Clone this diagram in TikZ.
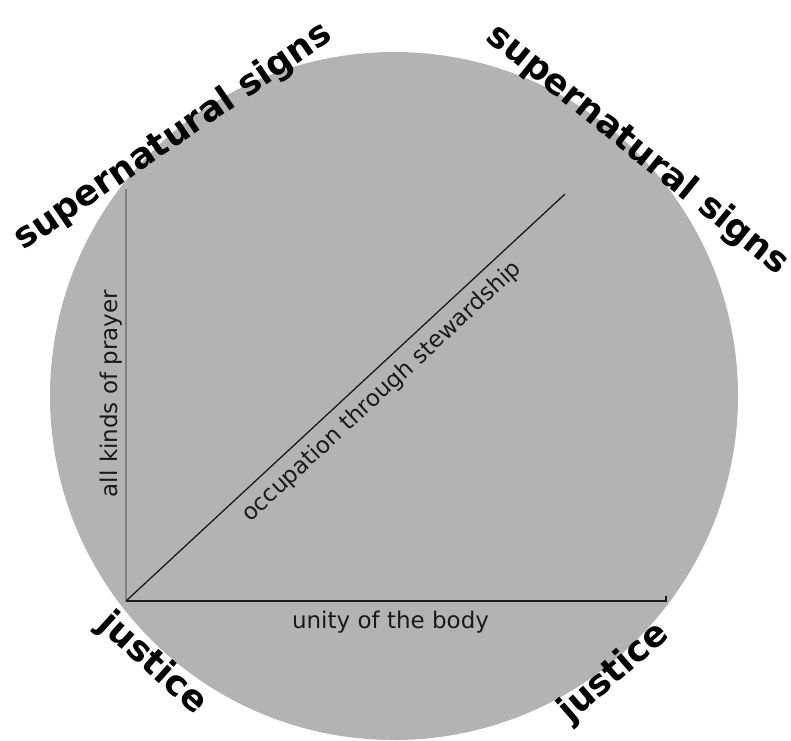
\documentclass[tikz,border=0pt]{standalone}
\usepackage{fontspec}
\setmainfont{DejaVu Sans}
\usetikzlibrary{calc}
\definecolor{disc}{HTML}{B3B3B3}
\definecolor{ink}{HTML}{1A1A1A}
\definecolor{muted}{HTML}{808080}
\tikzset{
  bigword/.style={font=\fontsize{35.5}{40}\selectfont\bfseries,text=black,inner sep=0pt},
  axlbl/.style={font=\fontsize{23}{26}\selectfont,text=ink,inner sep=0pt},
  rule/.style={line width=1.3pt,draw=#1},
  rule/.default=ink,
}

\begin{document}
\begin{tikzpicture}[x=1pt,y=-1pt]
  \useasboundingbox (0,0) rectangle (791,740);
  \fill[disc] (394,396) circle[radius=344];

  \coordinate (o)    at (126,601);
  \coordinate (up)   at (126,189);
  \coordinate (rt)   at (666,601);
  \coordinate (tick) at (666,596);
  \coordinate (dg)   at (565,194);

  \draw[rule=muted] (o) -- (up);
  \draw[rule] (o) -- (rt) -- (tick);
  \draw[rule] (o) -- (dg);

  \node[axlbl] (body)   at (390.5,622) {unity of the body};
  \node[axlbl,rotate=90] (prayer) at (111,393.5) {all kinds of prayer};
  \node[axlbl,rotate=42.8] (steward) at (382,392) {occupation through stewardship};

  \node[bigword,rotate=34.3]  (signsL)   at (173.5,137) {supernatural signs};
  \node[bigword,rotate=-38.8] (signsR)   at (637.5,150) {supernatural signs};
  \node[bigword,rotate=-42]   (justiceL) at (152,664) {justice};
  \node[bigword,rotate=41]    (justiceR) at (614,673) {justice};
\end{tikzpicture}
\end{document}
